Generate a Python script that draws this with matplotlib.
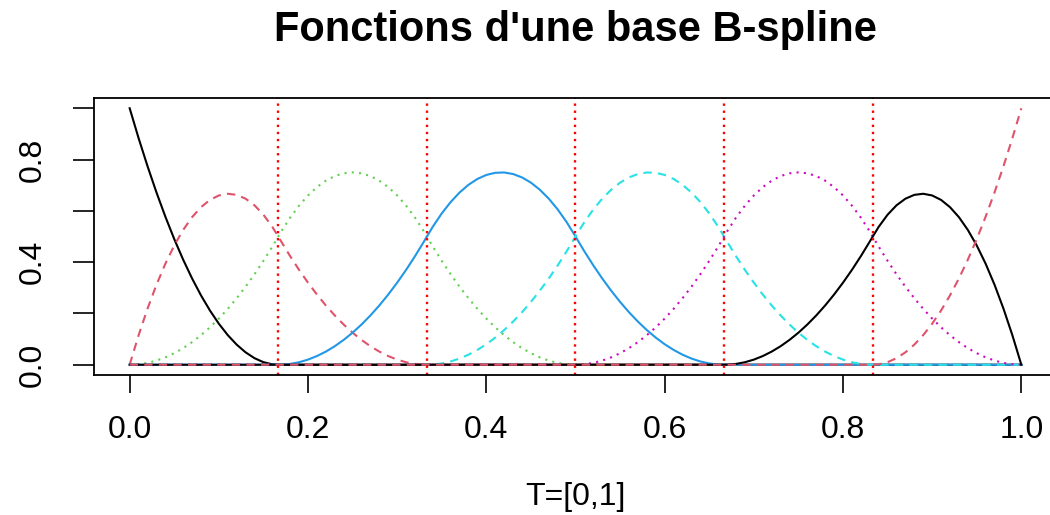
import numpy as np
import matplotlib
matplotlib.use("Agg")
import matplotlib.pyplot as plt

plt.rcParams['font.family'] = ['Liberation Sans', 'DejaVu Sans']

# noeuds intérieurs (lignes rouges) et degré de la base
knots = [1/6, 2/6, 3/6, 4/6, 5/6]
degree = 2
t_grid = np.linspace(0, 1, 101)

colors = ['#000000', '#DF536B', '#61D04F', '#2297E6', '#28E2E5', '#CD0BBC', '#000000', '#DF536B']
styles = ['-', (0, (4, 3)), (0, (1, 2.5)), '-', (0, (4, 3)), (0, (1, 2.5)), '-', (0, (4, 3))]
xticks = [0.0, 0.2, 0.4, 0.6, 0.8, 1.0]
yticks = [0.0, 0.2, 0.4, 0.6, 0.8, 1.0]
ylabels = ['0.0', '', '0.4', '', '0.8', '']


def bspline_basis(x, inner, k):
    t = np.r_[[0.0] * (k + 1), inner, [1.0] * (k + 1)]
    n = len(t) - 1
    B = np.zeros((len(x), n))
    for i in range(n):
        B[:, i] = (x >= t[i]) & (x < t[i + 1])
    B[x == 1.0, len(t) - k - 2] = 1.0
    for d in range(1, k + 1):
        Bn = np.zeros((len(x), n - d))
        for i in range(n - d):
            a = (x - t[i]) / (t[i + d] - t[i]) * B[:, i] if t[i + d] > t[i] else 0
            b = (t[i + d + 1] - x) / (t[i + d + 1] - t[i + 1]) * B[:, i + 1] if t[i + d + 1] > t[i + 1] else 0
            Bn[:, i] = a + b
        B = Bn
    return B


basis = bspline_basis(t_grid, knots, degree)

fig = plt.figure(figsize=(10.5, 5.15), dpi=100)
ax = fig.add_axes([94/1050, 140/515, 963/1050, 277/515])

for j in range(basis.shape[1]):
    ax.plot(t_grid, basis[:, j], color=colors[j], linestyle=styles[j], lw=1.5)

for k in knots:
    ax.axvline(k, color='#FF0000', linestyle=(0, (1, 2)), lw=1.7)

ax.set_xlim(-0.04, 1.04)
ax.set_ylim(-0.04, 1.04)
ax.set_xticks(xticks)
ax.set_xticklabels(['0.0', '0.2', '0.4', '0.6', '0.8', '1.0'])
ax.set_yticks(yticks)
ax.set_yticklabels(ylabels, rotation=90, va='center')
ax.tick_params(axis='x', length=13, width=1.2, pad=16, labelsize=23)
ax.tick_params(axis='y', length=15, width=1.2, pad=18, labelsize=23)
for s in ax.spines.values():
    s.set_linewidth(1.3)

fig.text(575/1050, 1 - 30/515, "Fonctions d'une base B-spline", ha='center', va='center',
         fontsize=30, fontweight='bold')
fig.text(575/1050, 1 - 497/515, "T=[0,1]", ha='center', va='center', fontsize=23)

fig.savefig('out.png', dpi=100)
